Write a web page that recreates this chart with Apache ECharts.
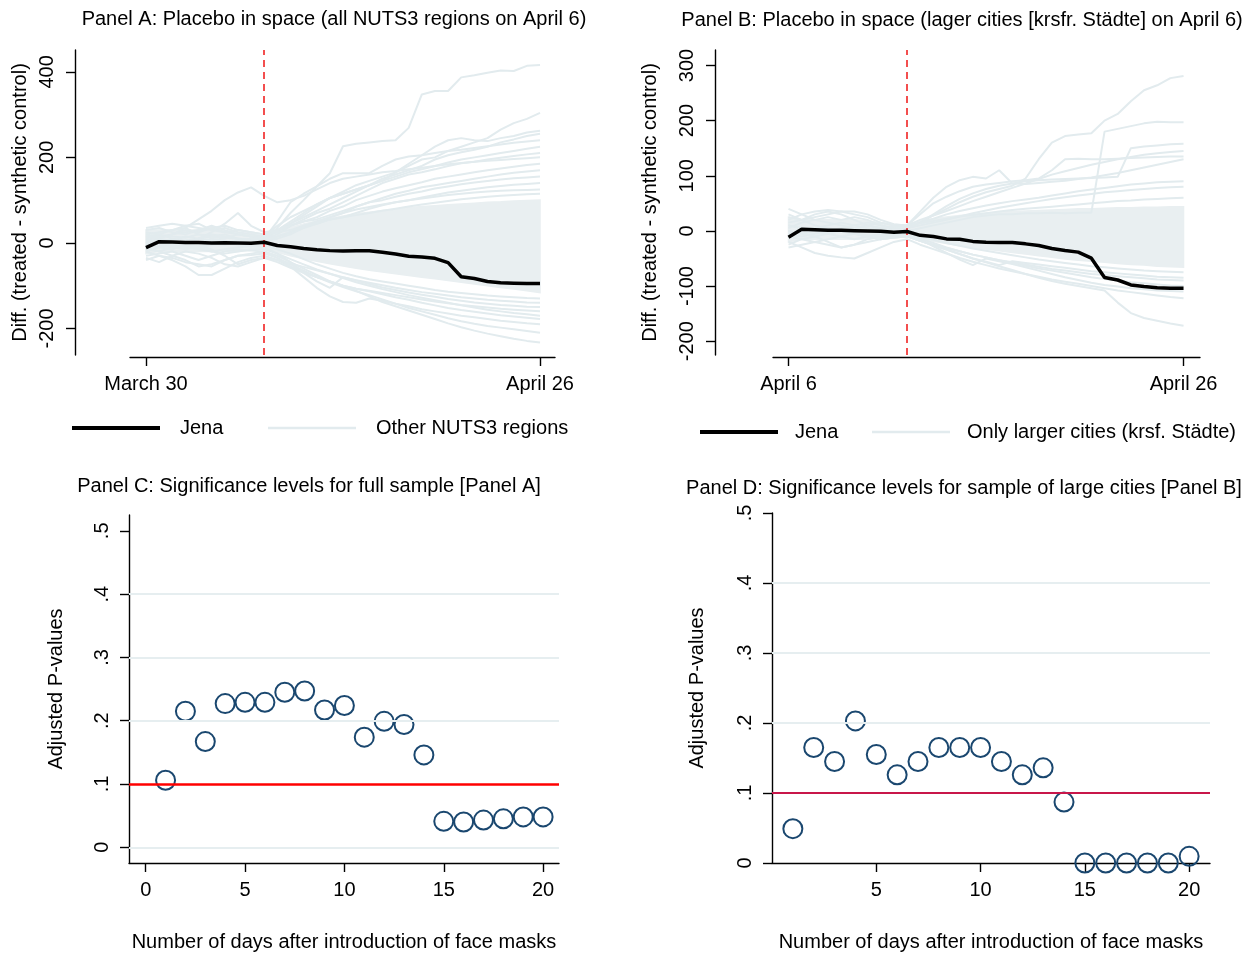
<!DOCTYPE html>
<html><head><meta charset="utf-8">
<script src="https://cdn.jsdelivr.net/npm/echarts@6/dist/echarts.min.js"></script>
<style>html,body{margin:0;padding:0;background:#fff}#c{width:1255px;height:953px}</style>
</head><body><div id="c"></div>
<script>
// ---------- DATA ----------
const days = [0,1,2,3,4,5,6,7,8,9,10,11,12,13,14,15,16,17,18,19,20,21,22,23,24,25,26,27,28,29,30];
const treatIndex = 9;
const xTickPos = [0, 30];
const xTickLabelsA = ['March 30', 'April 26'];
const xTickLabelsB = ['April 6', 'April 26'];
const yTicksA = [-200, 0, 200, 400];
const yTicksB = [-200, -100, 0, 100, 200, 300];

const jenaA = [-11,3,2,1,1,0,0.5,0,-1,1.5,-6,-9,-13,-16,-18,-19,-18.5,-18.5,-22,-26,-31,-33,-36,-46,-79,-83,-90,-93,-94,-95,-95];
const jenaB = [-11.5,3,2,1,1,0.5,0,-0.5,-2.5,-1,-8,-10,-14.5,-15,-19,-20.5,-21,-21,-23.5,-26.5,-32,-35.5,-38.5,-49.5,-84.5,-89,-98,-101,-103,-104,-104];

// dense core of placebo lines (lower / upper edge)
const bandA_low  = [-25,-20,-20,-20,-20,-20,-20,-20,-18,-12,-22,-30,-37,-43,-49,-54,-59,-64,-68,-72,-76,-80,-84,-88,-92,-96,-100,-104,-108,-112,-116];
const bandA_high = [30,30,30,30,30,30,28,25,22,15,28,36,44,51,57,63,68,72,76,79,82,85,87,89,91,93,95,96,98,99,100];
const bandB_low  = [-20,-15,-15,-15,-15,-15,-15,-12,-10,-8,-14,-19,-23,-27,-30,-33,-36,-39,-42,-45,-48,-51,-53,-55,-57,-59,-61,-62,-64,-65,-66];
const bandB_high = [25,20,20,20,20,20,18,15,12,10,18,22,25,28,30,32,34,35,36,37,38,39,40,40,41,42,42,43,43,44,44];

const placeboA = [
 [10,18,15,12,20,15,12,10,8,10,50,95,115,132,163,226,232,235,238,240,269,347,355,355,387,392,398,403,402,414,416],
 [5,15,20,25,30,35,25,20,15,15,40,60,75,90,105,120,135,145,155,165,180,195,200,215,225,235,245,265,280,290,304],
 [-10,0,10,5,10,15,20,10,5,5,30,50,70,90,105,115,125,135,145,165,185,205,225,240,245,240,238,245,250,258,262],
 [20,25,30,40,45,30,35,25,20,15,25,45,65,85,105,115,125,135,150,160,170,180,195,205,212,218,225,235,242,250,255],
 [0,10,5,15,10,20,15,10,5,5,35,70,100,132,150,163,163,163,180,195,202,205,210,215,218,222,226,230,234,237,240],
 [15,10,20,30,25,35,40,30,25,20,30,45,60,75,90,105,120,135,145,155,165,172,180,188,195,200,205,210,215,220,225],
 [0,10,20,35,55,75,100,118,130,110,95,100,110,125,140,150,155,160,165,168,172,176,180,184,187,190,192,194,196,198,200],
 [-5,-10,0,5,10,5,0,5,10,10,20,40,55,70,80,95,110,125,140,150,160,165,172,180,186,190,195,199,203,207,210],
 [30,35,25,20,30,40,30,20,15,15,30,40,50,60,75,85,100,110,120,128,135,142,150,155,160,165,170,174,178,182,185],
 [-20,-10,-15,-5,0,10,5,0,5,5,10,20,35,50,60,70,85,95,105,115,122,130,135,140,145,150,155,160,164,167,170],
 [10,0,-10,0,10,25,45,70,40,25,30,40,50,55,65,75,85,95,100,108,115,120,127,132,137,141,145,148,151,153,155],
 [25,20,30,35,20,15,10,20,15,10,15,25,35,45,55,60,70,80,88,95,100,106,112,118,122,126,130,133,136,138,140],
 [-15,-20,-10,-5,-10,0,-5,5,5,0,15,25,40,50,60,70,78,84,90,95,100,104,108,112,115,118,120,122,123,124,125],
 [35,40,45,40,35,30,25,30,25,20,25,30,40,45,55,60,65,70,75,80,85,90,94,98,102,105,108,110,112,114,115],
 [-30,-25,-20,-30,-40,-30,-20,-15,-18,-20,-30,-45,-60,-75,-90,-100,-112,-125,-138,-148,-158,-168,-178,-188,-197,-205,-212,-218,-224,-229,-233],
 [-40,-30,-35,-45,-50,-55,-40,-30,-28,-25,-35,-50,-65,-80,-92,-103,-113,-122,-132,-142,-152,-160,-168,-176,-183,-189,-194,-198,-202,-206,-210],
 [-10,-20,-30,-40,-55,-50,-40,-30,-25,-20,-35,-55,-80,-105,-125,-138,-140,-130,-135,-142,-148,-155,-160,-165,-170,-174,-178,-182,-185,-188,-190],
 [-20,-30,-40,-55,-75,-75,-60,-45,-35,-30,-40,-55,-68,-80,-90,-100,-107,-113,-120,-127,-133,-140,-146,-152,-157,-161,-165,-169,-172,-175,-178],
 [5,0,-5,-10,-15,-20,-25,-20,-15,-15,-25,-38,-50,-62,-72,-82,-92,-100,-108,-115,-122,-128,-134,-140,-146,-151,-156,-160,-164,-167,-170],
 [20,10,0,-10,-5,-15,-30,-50,-40,-35,-45,-58,-70,-80,-90,-100,-107,-112,-117,-122,-127,-132,-137,-141,-145,-148,-151,-154,-156,-158,-160],
 [0,-5,-10,-15,-10,-5,0,-5,-8,-10,-25,-45,-70,-90,-105,-80,-88,-96,-104,-110,-116,-121,-126,-131,-135,-139,-142,-145,-147,-149,-150],
 [-35,-45,-30,-20,-25,-35,-50,-55,-45,-35,-40,-48,-56,-64,-72,-80,-87,-93,-99,-105,-110,-115,-119,-123,-127,-130,-133,-135,-137,-139,-140],
 [15,20,10,0,-10,-20,-15,-10,-8,-5,-15,-25,-38,-50,-60,-70,-78,-85,-90,-95,-100,-105,-110,-114,-117,-120,-123,-125,-127,-129,-130]
];

const placeboB = [
 [5,15,20,25,20,25,20,10,5,5,15,28,40,52,62,70,76,82,95,130,160,172,175,177,200,212,235,255,264,277,281],
 [10,5,0,-5,0,5,10,5,0,0,5,10,15,20,25,28,30,30,32,32,33,32,33,33,180,185,190,195,198,197,197],
 [-10,0,5,10,15,10,5,0,5,5,15,30,45,58,68,76,82,86,90,92,93,94,95,96,97,98,150,153,155,157,158],
 [0,-5,0,5,0,5,10,15,10,10,20,28,36,45,54,62,70,78,86,94,102,108,114,120,125,130,134,138,141,143,145],
 [15,20,25,30,35,35,30,20,12,10,30,50,62,72,80,84,87,90,92,95,110,130,131,130,130,131,132,133,134,135,135],
 [20,30,35,38,35,30,25,15,10,10,35,60,80,92,98,95,110,86,85,87,89,91,94,97,101,105,110,115,120,125,130],
 [25,20,30,35,30,20,10,5,8,10,15,22,30,36,41,46,50,54,57,60,64,68,72,75,78,81,84,86,88,89,90],
 [-5,-10,-5,0,5,10,15,10,5,5,10,15,20,26,32,37,42,46,50,54,58,61,64,67,70,72,74,76,78,79,80],
 [40,30,20,15,10,5,0,5,8,10,14,18,22,26,29,32,35,38,40,42,44,46,48,50,52,54,55,57,58,59,60],
 [-30,-25,-20,-25,-30,-25,-20,-15,-12,-10,-18,-26,-34,-42,-50,-57,-64,-71,-78,-85,-91,-96,-100,-104,-108,-130,-149,-158,-163,-168,-172],
 [-20,-30,-40,-45,-48,-50,-40,-30,-20,-15,-25,-33,-41,-49,-56,-62,-68,-73,-78,-83,-88,-92,-96,-100,-104,-108,-111,-114,-117,-120,-122],
 [0,-5,-10,-5,-10,-15,-10,-5,-5,-5,-15,-28,-40,-52,-62,-50,-55,-60,-66,-72,-78,-84,-89,-94,-98,-101,-104,-106,-108,-109,-110],
 [10,5,0,-5,0,-5,-10,-15,-12,-10,-18,-25,-31,-37,-43,-48,-53,-58,-63,-68,-72,-76,-80,-84,-87,-90,-93,-95,-97,-99,-100],
 [-10,-15,-20,-15,-10,-5,-10,-15,-12,-10,-18,-26,-34,-42,-50,-56,-62,-55,-58,-61,-64,-67,-70,-73,-75,-77,-79,-81,-83,-84,-85],
 [-25,-15,-10,-20,-30,-25,-15,-10,-8,-5,-14,-22,-30,-37,-43,-48,-53,-57,-61,-65,-69,-72,-75,-78,-80,-82,-84,-86,-88,-89,-90],
 [30,20,10,5,0,-5,-8,-10,-8,-5,-10,-16,-22,-27,-32,-36,-40,-44,-48,-52,-55,-58,-61,-64,-66,-68,-70,-72,-73,-74,-75]
];

const pDays = [1,2,3,4,5,6,7,8,9,10,11,12,13,14,15,16,17,18,19,20];
const pvalC = [0.106,0.215,0.167,0.227,0.229,0.229,0.245,0.247,0.217,0.224,0.174,0.199,0.194,0.146,0.041,0.040,0.043,0.045,0.048,0.048];
const pvalD = [0.049,0.165,0.145,0.203,0.155,0.126,0.145,0.165,0.165,0.165,0.145,0.126,0.136,0.087,0,0,0,0,0,0.0095];
const pTicks = [0, 0.1, 0.2, 0.3, 0.4, 0.5];
const pGridC = [0, 0.2, 0.3, 0.4];
const pGridD = [0.2, 0.3, 0.4];
const pThreshold = 0.1;
const xTicksC = [0, 5, 10, 15, 20];
const xTicksD = [5, 10, 15, 20];

// ---------- STYLE ----------
const FONT = 'Liberation Sans, Arial, sans-serif';
const TXT = {fontFamily: FONT, fontSize: 20, color: '#000'};
const LIGHT = '#e2ebee';
const BAND = '#e9eff1';
const AX = {onZero: false, lineStyle: {color: '#000', width: 1.4}};
const TICK = {color: '#000', width: 1.4};
const NAVY = '#1a476f';

const pairs = (arr) => days.map((d, i) => [d, arr[i]]);
const pFmt = (v) => v === 0 ? '0' : v.toFixed(1).replace(/^0/, '');

function lineAxisX(grid, min, max, labels) {
  return {gridIndex: grid, type: 'value', min: min, max: max, offset: 2,
    axisLine: AX, splitLine: {show: false},
    axisTick: {customValues: xTickPos, length: 9, lineStyle: TICK},
    axisLabel: {customValues: xTickPos, margin: 17, ...TXT,
      formatter: (v) => v === xTickPos[0] ? labels[0] : labels[1]}};
}
function lineAxisY(grid, min, max, ticks, offset, gap) {
  return {gridIndex: grid, type: 'value', min: min, max: max, offset: offset,
    axisLine: {show: true, ...AX}, splitLine: {show: false},
    axisTick: {show: true, customValues: ticks, length: 9, lineStyle: TICK},
    axisLabel: {customValues: ticks, rotate: 90, margin: 18, ...TXT},
    name: 'Diff. (treated - synthetic control)', nameLocation: 'middle', nameRotate: 90,
    nameGap: gap, nameTextStyle: TXT};
}

const series = [];
function addPanel(idx, low, high, lines, jena, placeboName) {
  series.push({type: 'custom', name: 'band' + idx, xAxisIndex: idx, yAxisIndex: idx,
    data: [[days[0], low[0]]], silent: true, z: 1,
    renderItem: (params, api) => {
      const up = days.map((d, i) => api.coord([d, high[i]]));
      const dn = days.map((d, i) => api.coord([d, low[i]])).reverse();
      return {type: 'polygon', shape: {points: up.concat(dn)}, style: {fill: BAND, stroke: BAND, lineWidth: 1.5}};
    }});
  lines.forEach((arr) => series.push({type: 'line', name: placeboName, xAxisIndex: idx, yAxisIndex: idx,
    data: pairs(arr), symbol: 'none', lineStyle: {color: LIGHT, width: 2}, itemStyle: {color: LIGHT},
    silent: true, z: 2}));
  series.push({type: 'line', name: 'treat' + idx, xAxisIndex: idx, yAxisIndex: idx, data: [],
    silent: true, z: 3,
    markLine: {silent: true, symbol: ['none', 'none'], label: {show: false},
      lineStyle: {color: '#f01414', type: [7, 5], width: 1.5, opacity: 1}, data: [{xAxis: treatIndex}]}});
  series.push({type: 'line', name: 'Jena', xAxisIndex: idx, yAxisIndex: idx, data: pairs(jena),
    symbol: 'none', lineStyle: {color: '#000', width: 3.5}, itemStyle: {color: '#000'}, z: 5});
}
addPanel(0, bandA_low, bandA_high, placeboA, jenaA, 'Other NUTS3 regions');
addPanel(1, bandB_low, bandB_high, placeboB, jenaB, 'Only larger cities (krsf. Städte)');

function addP(idx, vals, grid, redColor, redWidth) {
  series.push({type: 'line', name: 'grid' + idx, xAxisIndex: idx, yAxisIndex: idx, data: [], z: 1, silent: true,
    markLine: {silent: true, symbol: ['none', 'none'], label: {show: false},
      lineStyle: {color: '#e6eef0', type: 'solid', width: 2, opacity: 1}, data: grid.map((g) => ({yAxis: g}))}});
  series.push({type: 'line', name: 'thr' + idx, xAxisIndex: idx, yAxisIndex: idx, data: [], z: 3, silent: true,
    markLine: {silent: true, symbol: ['none', 'none'], label: {show: false},
      lineStyle: {color: redColor, type: 'solid', width: redWidth, opacity: 1}, data: [{yAxis: pThreshold}]}});
  series.push({type: 'scatter', name: 'p' + idx, xAxisIndex: idx, yAxisIndex: idx,
    data: pDays.map((d, i) => [d, vals[i]]), symbol: 'circle', symbolSize: 19,
    itemStyle: {color: 'rgba(255,255,255,0)', borderColor: NAVY, borderWidth: 2, opacity: 1}, z: 4});
}
addP(2, pvalC, pGridC, '#ff0000', 2.5);
addP(3, pvalD, pGridD, '#c8174a', 2.2);

function pAxisY(grid, min, max, gap) {
  return {gridIndex: grid, type: 'value', min: min, max: max,
    axisLine: {show: true, ...AX}, splitLine: {show: false},
    axisTick: {show: true, customValues: pTicks, length: 9, lineStyle: TICK},
    axisLabel: {customValues: pTicks, rotate: 90, margin: 17, ...TXT, formatter: pFmt},
    name: 'Adjusted P-values', nameLocation: 'middle', nameRotate: 90, nameGap: gap, nameTextStyle: TXT};
}
function pAxisX(grid, min, max, ticks) {
  return {gridIndex: grid, type: 'value', min: min, max: max,
    axisLine: AX, splitLine: {show: false},
    axisTick: {customValues: ticks, length: 9, lineStyle: TICK},
    axisLabel: {customValues: ticks, margin: 17, ...TXT},
    name: 'Number of days after introduction of face masks', nameLocation: 'middle', nameGap: 69,
    nameTextStyle: TXT};
}

function legendItem(left, top, name, w, h, gapText) {
  return {left: left, top: top, padding: 0, itemWidth: w, itemHeight: h, selectedMode: false,
    icon: 'rect', textStyle: {...TXT, padding: [0, 0, 0, gapText]}, data: [name]};
}

const option = {
  animation: false,
  backgroundColor: '#fff',
  title: [
    {text: 'Panel A: Placebo in space (all NUTS3 regions on April 6)', left: 334, top: 9, textAlign: 'center', padding: 0, textStyle: {...TXT, fontWeight: 'normal'}},
    {text: 'Panel B: Placebo in space (lager cities [krsfr. Städte] on April 6)', left: 962, top: 10, textAlign: 'center', padding: 0, textStyle: {...TXT, fontWeight: 'normal'}},
    {text: 'Panel C: Significance levels for full sample [Panel A]', left: 309, top: 476, textAlign: 'center', padding: 0, textStyle: {...TXT, fontWeight: 'normal'}},
    {text: 'Panel D: Significance levels for sample of large cities [Panel B]', left: 964, top: 478, textAlign: 'center', padding: 0, textStyle: {...TXT, fontWeight: 'normal'}}
  ],
  legend: [
    legendItem(72, 418, 'Jena', 88, 4, 15),
    legendItem(268, 418, 'Other NUTS3 regions', 88, 2.5, 15),
    legendItem(700, 422, 'Jena', 78, 4, 12),
    legendItem(872, 422, 'Only larger cities (krsf. Städte)', 78, 2.5, 12)
  ],
  grid: [
    {left: 130, top: 50, width: 425, height: 305},
    {left: 773, top: 50, width: 427, height: 305},
    {left: 129, top: 515, width: 430, height: 348},
    {left: 772, top: 513, width: 438, height: 350}
  ],
  xAxis: [
    lineAxisX(0, -1.218, 31.14, xTickLabelsA),
    lineAxisX(1, -1.177, 31.25, xTickLabelsB),
    pAxisX(2, -0.84, 20.8, xTicksC),
    pAxisX(3, 0, 21, xTicksD)
  ],
  yAxis: [
    lineAxisY(0, -262, 451, yTicksA, 55, 45),
    lineAxisY(1, -225, 328, yTicksB, 58, 55),
    pAxisY(2, -0.0248, 0.525, 63),
    pAxisY(3, 0, 0.5, 65)
  ],
  series: series
};
const chart = echarts.init(document.getElementById('c'), null, {renderer: 'canvas'});
chart.setOption(option);
</script></body></html>
